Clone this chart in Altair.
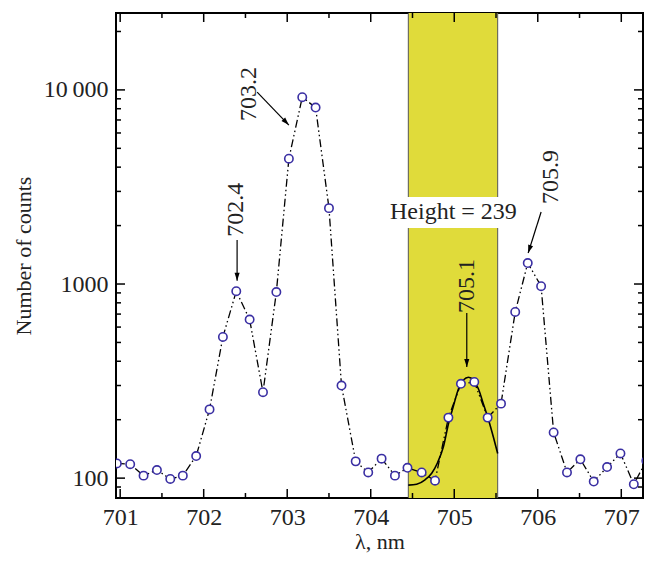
import altair as alt
import pandas as pd

# ---- measured spectrum (wavelength in nm, number of counts) ----
lam = [700.96, 701.12, 701.28, 701.44, 701.60, 701.75, 701.91, 702.07, 702.23, 702.39,
       702.55, 702.71, 702.87, 703.02, 703.18, 703.34, 703.50, 703.65, 703.82, 703.97,
       704.13, 704.29, 704.44, 704.61, 704.77, 704.93, 705.08, 705.24, 705.40, 705.56,
       705.73, 705.88, 706.04, 706.19, 706.35, 706.51, 706.67, 706.83, 706.99, 707.15,
       707.30]
counts = [119, 118, 103, 110, 99, 103, 130, 226, 534, 918,
          656, 277, 909, 4420, 9170, 8110, 2460, 300, 122, 107,
          126, 103, 113, 107, 97, 205, 306, 313, 205, 242,
          718, 1283, 975, 172, 107, 125, 96, 114, 134, 93,
          123]

# ---- fitted peak curve ----
fit_lam = [704.45, 704.55, 704.65, 704.73, 704.80, 704.87, 704.93, 704.99, 705.05,
           705.11, 705.17, 705.23, 705.29, 705.35, 705.41, 705.47, 705.52]
fit_counts = [92, 93, 98, 106, 120, 145, 190, 235, 288,
              320, 331, 320, 288, 240, 200, 162, 134]

# ---- axis ticks ----
x_major = [701, 702, 703, 704, 705, 706, 707]
x_minor = [701.5, 702.5, 703.5, 704.5, 705.5, 706.5]
y_major = [100, 1000, 10000]
y_minor = [90, 200, 300, 400, 500, 600, 700, 800, 900,
           2000, 3000, 4000, 5000, 6000, 7000, 8000, 9000, 20000]

# ---- highlighted band and its label ----
band_lo, band_hi = 704.45, 705.52
band_label = "Height = 239"

# ---- peak annotations ----
ann_text = ["703.2", "702.4", "705.1", "705.9"]
ann_x = [702.54, 702.39, 705.15, 706.16]
ann_y = [9530, 2410, 977, 3556]
arr_x1 = [702.64, 702.40, 705.15, 706.04]
arr_y1 = [9750, 1687, 710, 2350]
arr_x2 = [703.02, 702.40, 705.15, 705.885]
arr_y2 = [6590, 1038, 374, 1445]
arr_ang = [316, 0, 0, 18]

W, H = 527, 485
FONT = "Liberation Serif"
xs = alt.Scale(domain=[700.95, 707.26], nice=False, zero=False)
ys = alt.Scale(type="log", domain=[79, 24900], nice=False)

xaxis = alt.Axis(values=x_major, format="d", ticks=False, tickSize=0, domain=False,
                 grid=False, labelFont=FONT, labelFontSize=24, labelColor="#222222",
                 labelPadding=7, titleFont=FONT, titleFontSize=22,
                 titleFontWeight="normal", titleColor="#222222", titlePadding=2)
yaxis = alt.Axis(values=y_major, ticks=False, tickSize=0, domain=False, grid=False,
                 labelExpr="datum.value >= 10000 ? '10\u2009000' : format(datum.value, 'd')",
                 labelFont=FONT, labelFontSize=24, labelColor="#222222",
                 labelPadding=8, titleFont=FONT, titleFontSize=22,
                 titleFontWeight="normal", titleColor="#222222", titlePadding=8)
XT, YT = "λ, nm", "Number of counts"


def X(f):
    return alt.X(f, scale=xs, axis=xaxis, title=XT)


def Y(f):
    return alt.Y(f, scale=ys, axis=yaxis, title=YT)


df = pd.DataFrame({"lam": lam, "counts": counts})
fit = pd.DataFrame({"lam": fit_lam, "counts": fit_counts})
band = pd.DataFrame({"a": [band_lo], "b": [band_hi]})
box = pd.DataFrame({"a": [band_lo - 0.05], "b": [band_hi + 0.06], "lo": [1945], "hi": [2809],
                    "tx": [704.99], "ty": [2350], "t": [band_label]})
ann = pd.DataFrame({"t": ann_text, "x": ann_x, "y": ann_y})
arr = pd.DataFrame({"x1": arr_x1, "y1": arr_y1, "x2": arr_x2, "y2": arr_y2, "ang": arr_ang})

band_rect = alt.Chart(band).mark_rect(color="#e0db3a").encode(
    x=X("a:Q"), x2="b:Q", y=alt.value(0), y2=alt.value(H))
band_edges = alt.Chart(pd.DataFrame({"v": [band_lo, band_hi]})).mark_rule(
    color="#555555", strokeWidth=1).encode(x=X("v:Q"), y=alt.value(0), y2=alt.value(H))
white_box = alt.Chart(box).mark_rect(color="white").encode(
    x=X("a:Q"), x2="b:Q", y=Y("lo:Q"), y2="hi:Q")
box_text = alt.Chart(box).mark_text(font=FONT, fontSize=24, color="#222222",
                                    align="center", baseline="middle").encode(
    x=X("tx:Q"), y=Y("ty:Q"), text="t:N")

fit_line = alt.Chart(fit).mark_line(color="black", strokeWidth=1.6, interpolate="monotone").encode(
    x=X("lam:Q"), y=Y("counts:Q"))

data_line = alt.Chart(df).mark_line(
    color="black", strokeWidth=1.3, strokeDash=[8, 3, 1.5, 3, 1.5, 3], clip=True).encode(
    x=X("lam:Q"), y=Y("counts:Q"))

points = alt.Chart(df).mark_point(
    shape="circle", size=70, filled=False, stroke="#3a2fa3", fill="white", fillOpacity=1,
    strokeWidth=1.6, opacity=1, clip=True).encode(x=X("lam:Q"), y=Y("counts:Q"))

arrow_lines = alt.Chart(arr).mark_rule(color="black", strokeWidth=1.2).encode(
    x=X("x1:Q"), y=Y("y1:Q"), x2="x2:Q", y2="y2:Q")
arrow_heads = alt.Chart(arr).mark_point(
    shape="M0,0L-0.32,-1L0.32,-1Z", size=256, filled=True, color="black", opacity=1).encode(
    x=X("x2:Q"), y=Y("y2:Q"), angle=alt.Angle("ang:Q", scale=None))
ann_text_layer = alt.Chart(ann).mark_text(
    font=FONT, fontSize=24, angle=270, color="#222222", align="center", baseline="middle").encode(
    x=X("x:Q"), y=Y("y:Q"), text="t:N")


def xticks(vals, L):
    d = pd.DataFrame({"v": vals})
    bot = alt.Chart(d).mark_rule(color="black", strokeWidth=1.5).encode(
        x=X("v:Q"), y=alt.value(H), y2=alt.value(H - L))
    top = alt.Chart(d).mark_rule(color="black", strokeWidth=1.5).encode(
        x=X("v:Q"), y=alt.value(0), y2=alt.value(L))
    return [bot, top]


def yticks(vals, L):
    d = pd.DataFrame({"v": vals})
    left = alt.Chart(d).mark_rule(color="black", strokeWidth=1.5).encode(
        y=Y("v:Q"), x=alt.value(0), x2=alt.value(L))
    right = alt.Chart(d).mark_rule(color="black", strokeWidth=1.5).encode(
        y=Y("v:Q"), x=alt.value(W), x2=alt.value(W - L))
    return [left, right]


layers = [band_rect, band_edges, white_box, box_text, fit_line, data_line, points,
          arrow_lines, arrow_heads, ann_text_layer]
layers += xticks(x_major, 9) + xticks(x_minor, 5) + yticks(y_major, 9) + yticks(y_minor, 5)

chart = alt.layer(*layers).properties(
    width=W, height=H,
    autosize=alt.AutoSizeParams(type="none"),
    padding={"left": 108, "top": 5, "right": 1, "bottom": 55},
    background="white",
).configure_view(stroke="black", strokeWidth=2)

chart.save("out.html", embed_options={"renderer": "svg", "actions": False})
